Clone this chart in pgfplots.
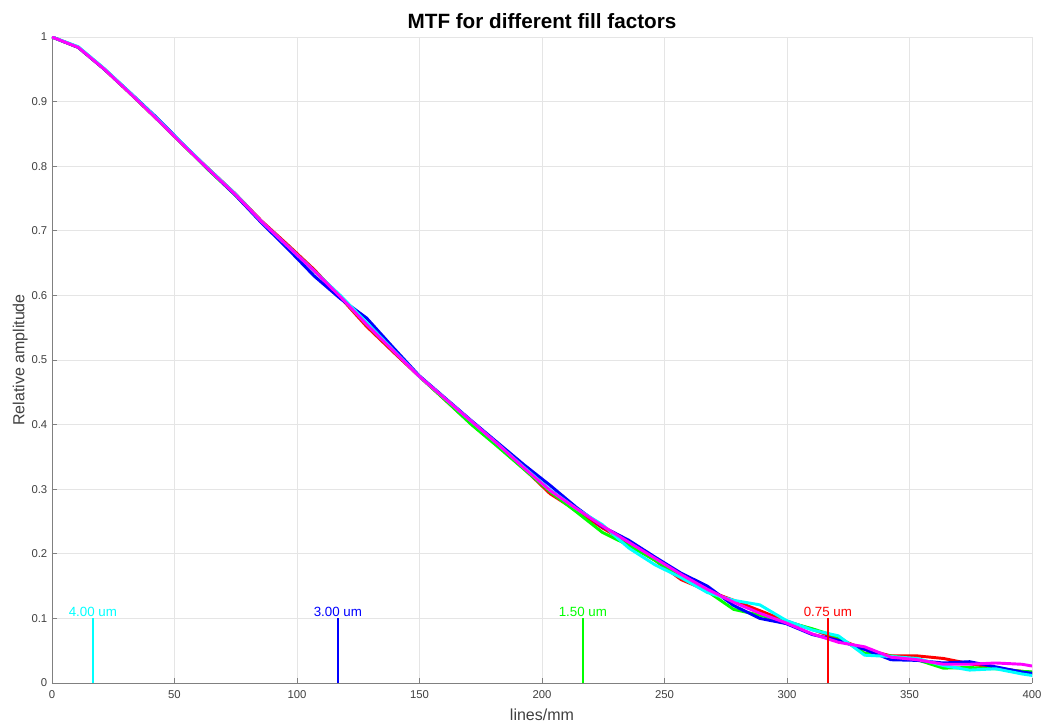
\documentclass[border=0pt]{standalone}
\usepackage{fontspec}
\setmainfont{Liberation Sans}
\usepackage{pgfplots}
\usepackage{pgfplotstable}
\pgfplotsset{compat=1.18}
\definecolor{cR}{rgb}{1,0,0}
\definecolor{cG}{rgb}{0,1,0}
\definecolor{cB}{rgb}{0,0,1}
\definecolor{cC}{rgb}{0,1,1}
\definecolor{cM}{rgb}{1,0,1}
\definecolor{axgray}{rgb}{0.5,0.5,0.5}
\definecolor{txgray}{rgb}{0.25,0.25,0.25}
\pgfplotstableread{
x      red    green  blue   cyan   mag
0.0    1.000  1.000  1.000  1.000  1.000
10.7   0.984  0.984  0.984  0.985  0.984
21.4   0.950  0.950  0.950  0.951  0.950
32.1   0.912  0.912  0.913  0.913  0.912
42.8   0.873  0.873  0.875  0.874  0.873
53.5   0.833  0.833  0.834  0.834  0.833
64.2   0.795  0.793  0.794  0.795  0.794
74.9   0.757  0.755  0.755  0.757  0.756
85.6   0.715  0.713  0.712  0.714  0.714
96.3   0.678  0.676  0.672  0.676  0.676
107.0  0.640  0.638  0.630  0.638  0.638
117.7  0.597  0.598  0.595  0.600  0.598
128.4  0.552  0.555  0.565  0.558  0.555
139.1  0.513  0.515  0.520  0.516  0.515
149.8  0.475  0.475  0.476  0.475  0.475
160.5  0.438  0.438  0.441  0.440  0.440
171.2  0.401  0.400  0.406  0.405  0.405
181.9  0.367  0.366  0.372  0.370  0.370
192.6  0.332  0.331  0.338  0.334  0.333
203.3  0.293  0.296  0.306  0.299  0.298
214.0  0.267  0.265  0.272  0.270  0.270
224.7  0.240  0.233  0.242  0.245  0.243
235.4  0.216  0.213  0.221  0.209  0.218
246.1  0.190  0.190  0.195  0.183  0.193
256.8  0.160  0.165  0.170  0.163  0.168
267.5  0.143  0.142  0.150  0.140  0.145
278.2  0.128  0.114  0.120  0.128  0.125
288.9  0.112  0.105  0.100  0.121  0.108
299.6  0.096  0.095  0.092  0.097  0.093
310.3  0.083  0.084  0.075  0.082  0.076
321.0  0.068  0.071  0.066  0.073  0.063
331.7  0.052  0.046  0.052  0.043  0.056
342.4  0.042  0.042  0.036  0.041  0.040
353.1  0.042  0.036  0.035  0.038  0.036
363.8  0.038  0.023  0.031  0.027  0.029
374.5  0.030  0.024  0.033  0.020  0.029
385.2  0.023  0.022  0.025  0.022  0.031
395.9  0.018  0.018  0.017  0.014  0.029
406.6  0.014  0.016  0.012  0.008  0.022
}\mtfdata
\begin{document}
\begin{tikzpicture}
\begin{axis}[
  name=ax,
  scale only axis,
  width=735pt, height=484.5pt,
  xmin=0, xmax=400, ymin=0, ymax=1,
  axis x line=bottom, axis y line=left,
  axis line style={-, draw=axgray, line width=0.6pt},
  tick align=inside,
  major tick length=4pt,
  tick style={draw=axgray, line width=0.6pt},
  xtick={0,50,...,400},
  ytick={0,0.1,...,1},
  yticklabels={0,0.1,0.2,0.3,0.4,0.5,0.6,0.7,0.8,0.9,1},
  grid=major,
  major grid style={draw=black!10, line width=0.5pt},
  ticklabel style={font=\fontsize{8.5}{10}\selectfont, text=txgray},
  xticklabel style={yshift=-2pt},
  /pgf/number format/assume math mode=true,
  xlabel={lines/mm},
  ylabel={Relative amplitude},
  label style={font=\fontsize{12}{14}\selectfont, text=txgray},
  xlabel style={yshift=-1pt},
  ylabel style={yshift=-4pt},
  title={MTF for different fill factors},
  title style={font=\bfseries\fontsize{15.5}{18}\selectfont, yshift=-3pt},
  every axis plot/.append style={line width=2.2pt, line join=round},
  clip=true,
]
\addplot[cR] table[x=x, y=red] {\mtfdata};
\addplot[cG] table[x=x, y=green] {\mtfdata};
\addplot[cB] table[x=x, y=blue] {\mtfdata};
\addplot[cC] table[x=x, y=cyan] {\mtfdata};
\addplot[cM] table[x=x, y=mag] {\mtfdata};

\addplot[cC, line width=2pt] coordinates {(16.67,0) (16.67,0.1)};
\addplot[cB, line width=2pt] coordinates {(116.67,0) (116.67,0.1)};
\addplot[cG, line width=2pt] coordinates {(216.67,0) (216.67,0.1)};
\addplot[cR, line width=2pt] coordinates {(316.67,0) (316.67,0.1)};
\node[anchor=south, inner sep=1pt, text=cC, font=\fontsize{10}{11}\selectfont] at (axis cs:16.67,0.1) {4.00 um};
\node[anchor=south, inner sep=1pt, text=cB, font=\fontsize{10}{11}\selectfont] at (axis cs:116.67,0.1) {3.00 um};
\node[anchor=south, inner sep=1pt, text=cG, font=\fontsize{10}{11}\selectfont] at (axis cs:216.67,0.1) {1.50 um};
\node[anchor=south, inner sep=1pt, text=cR, font=\fontsize{10}{11}\selectfont] at (axis cs:316.67,0.1) {0.75 um};
\end{axis}
\pgfresetboundingbox
\path (ax.south west) ++(-39pt,-32.25pt) rectangle ([shift={(743.25pt,512.25pt)}]ax.south west);
\end{tikzpicture}
\end{document}
